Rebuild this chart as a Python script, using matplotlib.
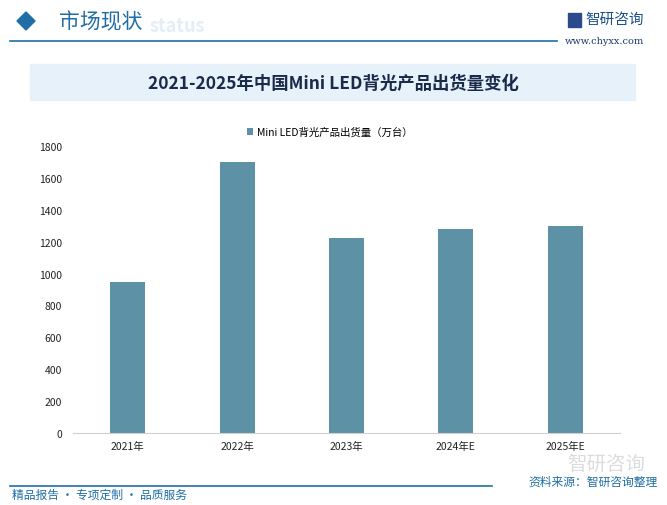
import matplotlib.pyplot as plt
from matplotlib.patches import Rectangle, Polygon

plt.rcParams['font.family'] = ['Noto Sans CJK SC', 'DejaVu Sans']

years = ["2021年", "2022年", "2023年", "2024年E", "2025年E"]
shipments = [950, 1700, 1220, 1280, 1300]
yticks = [0, 200, 400, 600, 800, 1000, 1200, 1400, 1600, 1800]

W, H = 667, 506
fig = plt.figure(figsize=(W / 100, H / 100), dpi=100)


def fx(px):
    return px / W


def fy(py):
    return 1 - py / H


blue = "#1f6ea5"

# header
fig.patches.append(Polygon([(fx(17), fy(22)), (fx(26), fy(13)), (fx(35), fy(22)), (fx(26), fy(31))],
                           closed=True, transform=fig.transFigure, color=blue))
fig.text(fx(150), fy(27), "status", fontsize=13, color="#e3eef7", fontweight="bold",
         ha="left", va="center", zorder=0)
fig.text(fx(59), fy(22), "市场现状", fontsize=15, color=blue, ha="left", va="center",
         fontweight="medium")
fig.add_artist(plt.Line2D([fx(10), fx(557)], [fy(42), fy(42)], color=blue, lw=1.2))
fig.text(fx(644), fy(20), "智研咨询", fontsize=10.5, color="#1a4f8a", ha="right", va="center")
fig.text(fx(644), fy(42), "www.chyxx.com", fontsize=7, color="#1a3a6a", ha="right", va="center",
         family="DejaVu Serif")
fig.patches.append(Rectangle((fx(568), fy(28)), 13 / W, 14 / H, transform=fig.transFigure,
                             color="#2b4a8c"))

# title box
fig.patches.append(Rectangle((fx(30), fy(101)), 605 / W, 36 / H, transform=fig.transFigure,
                             color="#e6f1f9", zorder=0))
fig.text(fx(333), fy(84), "2021-2025年中国Mini LED背光产品出货量变化", fontsize=12.5,
         fontweight="bold", color="#1a2a4a", ha="center", va="center")

# chart
ax = fig.add_axes([fx(73), fy(434), (620 - 73) / W, (434 - 147) / H])
ax.bar(years, shipments, width=0.32, color="#5d91a6", label="Mini LED背光产品出货量（万台）")
ax.set_ylim(0, 1800)
ax.set_xlim(-0.5, len(years) - 0.5)
ax.set_yticks(yticks)
ax.tick_params(axis="both", length=0, labelsize=7.5, colors="#222222")
ax.tick_params(axis="y", pad=8)
ax.tick_params(axis="x", pad=6)
for s in ["top", "right", "left"]:
    ax.spines[s].set_visible(False)
ax.spines["bottom"].set_color("#d0d0d0")
ax.legend(loc="upper center", bbox_to_anchor=(0.47, 1.1), frameon=False, fontsize=7.5,
          handlelength=0.6, handleheight=0.6, handletextpad=0.4)

# footer
fig.text(fx(645), fy(464), "智研咨询", fontsize=14, color="#dcdcdc", ha="right", va="center", zorder=0)
fig.add_artist(plt.Line2D([fx(10), fx(492)], [fy(487), fy(487)], color=blue, lw=1.2))
fig.text(fx(12), fy(495), "精品报告 · 专项定制 · 品质服务", fontsize=8.5, color=blue,
         ha="left", va="center")
fig.text(fx(658), fy(482), "资料来源：智研咨询整理", fontsize=8.5, color=blue, ha="right", va="center")

fig.savefig("out.png", dpi=100)
